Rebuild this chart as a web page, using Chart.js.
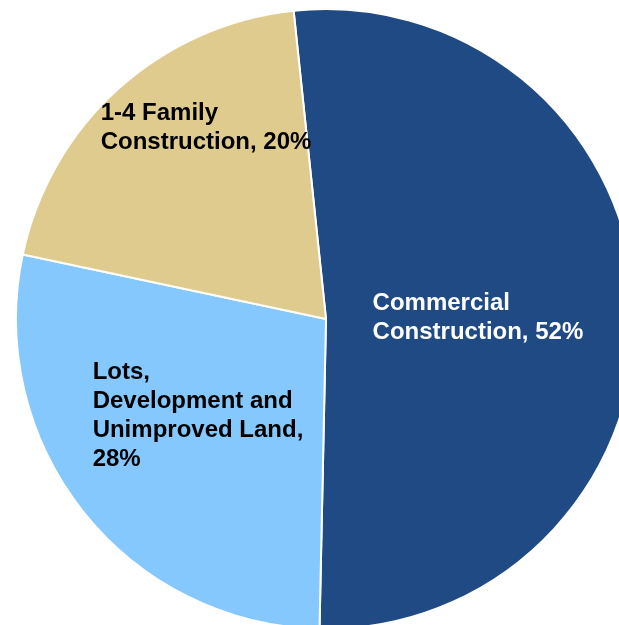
<!DOCTYPE html>
<html>
<head>
<meta charset="utf-8">
<script src="https://cdn.jsdelivr.net/npm/chart.js@4/dist/chart.umd.min.js"></script>
<style>
  html, body { margin: 0; padding: 0; background: #fff; overflow: hidden; }
  body { width: 619px; height: 625px; position: relative; }
  #wrap { position: absolute; left: 15px; top: 8px; width: 622px; height: 622px; }
</style>
</head>
<body>
<div id="wrap"><canvas id="chartMix"></canvas></div>
<script>
// Composición de la cartera de construcción
const categorias = [
  'Commercial\nConstruction, {v}',
  'Lots,\nDevelopment and\nUnimproved Land,\n{v}',
  '1-4 Family\nConstruction, {v}'
];
const porcentajes = [52, 28, 20];
const colores = ['#1F4A84', '#85C8FE', '#E0CB8F'];
const coloresTexto = ['#ffffff', '#000000', '#000000'];

// Etiquetas dentro de cada sector (posición relativa al radio)
const etiquetasPlugin = {
  id: 'etiquetas',
  afterDatasetsDraw(chart, args, opts) {
    const { ctx } = chart;
    const arcs = chart.getDatasetMeta(0).data;
    ctx.save();
    ctx.font = opts.font;
    ctx.textBaseline = 'middle';
    ctx.textAlign = 'left';
    arcs.forEach((arc, i) => {
      const r = arc.outerRadius;
      const lines = categorias[i].replace('{v}', porcentajes[i] + '%').split('\n');
      const maxW = Math.max(...lines.map(l => ctx.measureText(l).width));
      const cx = arc.x + opts.anchors[i][0] * r;
      const cy = arc.y + opts.anchors[i][1] * r;
      const x0 = cx - maxW / 2;
      const y0 = cy - (lines.length - 1) * opts.lineHeight / 2;
      ctx.fillStyle = coloresTexto[i];
      lines.forEach((l, j) => ctx.fillText(l, x0, y0 + j * opts.lineHeight));
    });
    ctx.restore();
  }
};

new Chart(document.getElementById('chartMix'), {
  type: 'pie',
  data: {
    labels: categorias.map(c => c.replace('{v}', '').replace(/\n/g, ' ')),
    datasets: [{
      data: porcentajes,
      backgroundColor: colores,
      borderColor: '#ffffff',
      borderWidth: 2
    }]
  },
  options: {
    responsive: true,
    maintainAspectRatio: false,
    animation: false,
    rotation: -6,
    layout: { padding: 0 },
    plugins: {
      legend: { display: false },
      tooltip: { enabled: false },
      etiquetas: {
        font: 'bold 24px "Liberation Sans", Arial, sans-serif',
        lineHeight: 29,
        anchors: [[0.49, -0.005], [-0.413, 0.313], [-0.387, -0.615]]
      }
    }
  },
  plugins: [etiquetasPlugin]
});
</script>
</body>
</html>
